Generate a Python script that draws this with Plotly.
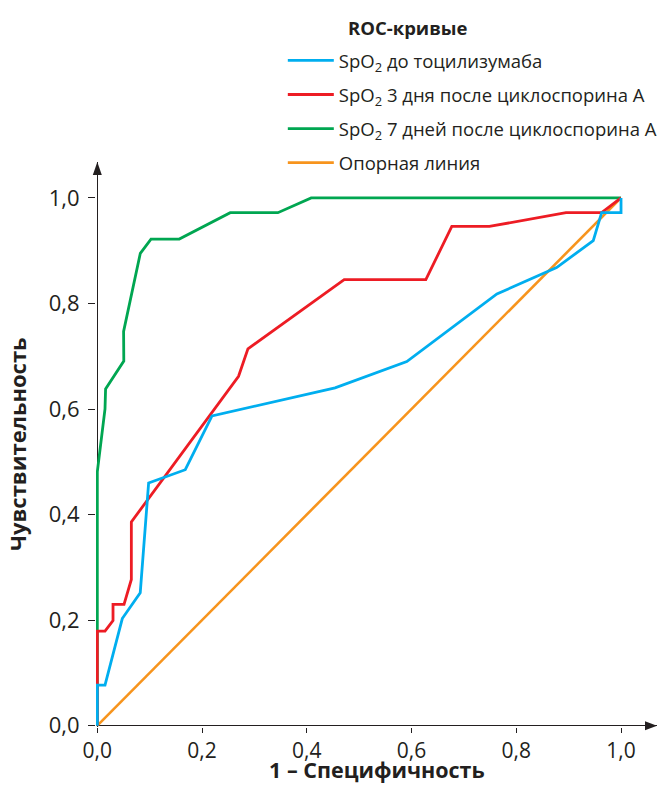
import plotly.graph_objects as go

# --- data ---
blue_x = [0, 0, 0.0147, 0.0477, 0.082, 0.098, 0.168, 0.219, 0.454, 0.591, 0.763, 0.877, 0.947, 0.963, 1.0, 1.0]
blue_y = [0, 0.077, 0.077, 0.203, 0.252, 0.460, 0.485, 0.587, 0.640, 0.690, 0.818, 0.868, 0.919, 0.972, 0.972, 1.0]

red_x = [0, 0, 0.0147, 0.030, 0.030, 0.051, 0.065, 0.065, 0.2697, 0.2876, 0.4714, 0.6273, 0.6769, 0.7487, 0.895, 0.963, 1.0]
red_y = [0, 0.179, 0.179, 0.199, 0.230, 0.230, 0.277, 0.386, 0.662, 0.714, 0.845, 0.845, 0.946, 0.946, 0.972, 0.972, 1.0]

green_x = [0, 0, 0.0147, 0.0158, 0.0506, 0.0502, 0.0821, 0.1025, 0.1565, 0.2538, 0.3448, 0.4084, 1.0]
green_y = [0, 0.481, 0.600, 0.638, 0.691, 0.747, 0.895, 0.922, 0.922, 0.972, 0.972, 1.0, 1.0]

ref_x = [0, 1]
ref_y = [0, 1]

tick_vals = [0, 0.2, 0.4, 0.6, 0.8, 1.0]
tick_text = ["0,0", "0,2", "0,4", "0,6", "0,8", "1,0"]

names = ["SpO<sub>2</sub> до тоцилизумаба",
         "SpO<sub>2</sub> 3 дня после циклоспорина А",
         "SpO<sub>2</sub> 7 дней после циклоспорина А",
         "Опорная линия"]

FONT = "Open Sans"
DARK = "#231f20"

fig = go.Figure()
fig.add_trace(go.Scatter(x=ref_x, y=ref_y, mode="lines", name=names[3], legendgroup="d", legendrank=4,
                         line=dict(color="#F7941D", width=2.6)))
fig.add_trace(go.Scatter(x=green_x, y=green_y, mode="lines", name=names[2], legendgroup="c", legendrank=3,
                         line=dict(color="#00A651", width=2.8)))
fig.add_trace(go.Scatter(x=red_x, y=red_y, mode="lines", name=names[1], legendgroup="b", legendrank=2,
                         line=dict(color="#ED1C24", width=2.8)))
fig.add_trace(go.Scatter(x=blue_x, y=blue_y, mode="lines", name=names[0], legendgroup="a", legendrank=1,
                         line=dict(color="#00AEEF", width=2.8)))

x0p = 0.0025 / 1.0712
y0p = 0.0025 / 1.0705

fig.update_layout(
    width=660, height=804,
    margin=dict(l=96, r=3, t=162, b=77, autoexpand=False),
    paper_bgcolor="white", plot_bgcolor="white",
    font=dict(family=FONT, color=DARK),
    showlegend=True,
    legend=dict(x=0.333, y=1.2125, xanchor="left", yanchor="top", itemwidth=46,
                font=dict(size=18.5, family=FONT, color=DARK),
                tracegroupgap=7, bgcolor="rgba(0,0,0,0)"),
    xaxis=dict(range=[-0.0025, 1.0687], showgrid=False, zeroline=True, zerolinecolor=DARK, zerolinewidth=1.3,
               showline=False, automargin=False, ticks="outside", ticklen=5, tickwidth=1.3, tickcolor=DARK,
               tickvals=tick_vals, ticktext=tick_text, tickfont=dict(size=21, family=FONT, color=DARK)),
    yaxis=dict(range=[-0.0025, 1.068], showgrid=False, zeroline=True, zerolinecolor=DARK, zerolinewidth=1.3,
               showline=False, automargin=False, ticks="outside", ticklen=7, tickwidth=1.3, tickcolor=DARK,
               tickvals=tick_vals, ticktext=tick_text, tickfont=dict(size=22, family=FONT, color=DARK),
               ticklabelstandoff=4),
    annotations=[
        dict(text="<b>ROC-кривые</b>", xref="paper", yref="paper", x=(346 - 96) / 561, y=(727 - 27) / 565,
             xanchor="left", yanchor="middle", showarrow=False,
             font=dict(size=18.5, family=FONT, color=DARK)),
        dict(text="<b>1 – Специфичность</b>", xref="paper", yref="paper", x=0.501, y=(727 - 769) / 565,
             xanchor="center", yanchor="middle", showarrow=False,
             font=dict(size=21.5, family=FONT, color=DARK)),
        dict(text="<b>Чувствительность</b>", xref="paper", yref="paper", x=(17 - 96) / 561, y=(727 - 444) / 565,
             xanchor="center", yanchor="middle", showarrow=False, textangle=-90,
             font=dict(size=22, family=FONT, color=DARK)),
    ],
    shapes=[
        dict(type="path", xref="paper", yref="paper", xsizemode="pixel", ysizemode="pixel",
             xanchor=1, yanchor=y0p, path="M0,0 L-12,4.5 L-12,-4.5 Z",
             fillcolor=DARK, line=dict(width=0)),
        dict(type="path", xref="paper", yref="paper", xsizemode="pixel", ysizemode="pixel",
             xanchor=x0p, yanchor=1, path="M0,0 L-4.5,-13 L4.5,-13 Z",
             fillcolor=DARK, line=dict(width=0)),
    ],
)

fig.write_html("out.html", post_script="document.body.style.margin='0';",
               config={"displayModeBar": False})
